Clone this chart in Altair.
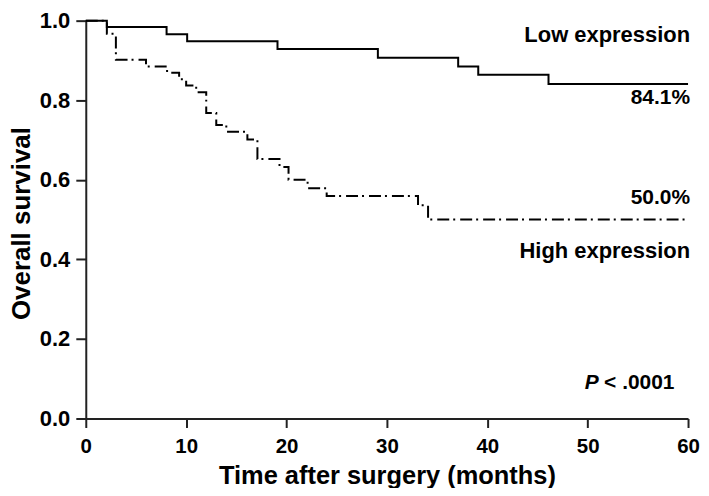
import altair as alt
import pandas as pd

# Kaplan-Meier step curves (time in months, survival probability)
low_times = [0, 2.1, 8.05, 10.1, 19.1, 29.1, 37.1, 39.1, 46.1, 60]
low_surv = [1.0, 0.984, 0.966, 0.948, 0.929, 0.907, 0.885, 0.864, 0.841, 0.841]

high_times = [0, 2.1, 3.0, 6.0, 8.1, 9.3, 10.0, 11.0, 12.0, 13.0, 14.0, 16.1,
              17.1, 19.3, 20.2, 22.1, 24.0, 33.1, 34.1, 60]
high_surv = [1.0, 0.967, 0.902, 0.885, 0.869, 0.853, 0.837, 0.820, 0.768, 0.738,
             0.721, 0.701, 0.652, 0.632, 0.600, 0.579, 0.559, 0.536, 0.500, 0.500]

# group labels
grp_text = ["Low expression", "High expression"]
grp_x = [60.2, 60.2]
grp_y = [0.946, 0.403]
# final survival percentages and p-value (right-aligned)
pct_text = ["84.1%", "50.0%", "< .0001"]
pct_x = [60.2, 60.2, 58.65]
pct_y = [0.791, 0.539, 0.075]
# italic P
p_text = ["P"]
p_x = [49.7]
p_y = [0.075]

FONT = "Liberation Sans"

low_df = pd.DataFrame({"t": low_times, "s": low_surv})
high_df = pd.DataFrame({"t": high_times, "s": high_surv})
grp_df = pd.DataFrame({"t": grp_x, "s": grp_y, "label": grp_text})
pct_df = pd.DataFrame({"t": pct_x, "s": pct_y, "label": pct_text})
p_df = pd.DataFrame({"t": p_x, "s": p_y, "label": p_text})

y_vals = [round(i * 0.1, 1) for i in range(11)]

x_enc = alt.X(
    "t:Q",
    scale=alt.Scale(domain=[0, 60], nice=False, zero=False),
    axis=alt.Axis(
        values=[0, 10, 20, 30, 40, 50, 60],
        title="Time after surgery (months)",
        titleFont=FONT, titleFontSize=25.5, titleFontWeight="bold", titleColor="black",
        titlePadding=7,
        labelFont=FONT, labelFontSize=20.5, labelFontWeight="bold", labelColor="black",
        labelPadding=9, labelFlush=False,
        tickSize=9, tickWidth=2, tickColor="#222", domainColor="#222", domainWidth=2,
        grid=False,
    ),
)
y_enc = alt.Y(
    "s:Q",
    scale=alt.Scale(domain=[0, 1], nice=False, zero=False),
    axis=alt.Axis(
        values=y_vals,
        labelExpr="(round(datum.value*10) % 2 == 0) ? format(datum.value, '.1f') : ''",
        title="Overall survival",
        titleFont=FONT, titleFontSize=26, titleFontWeight="bold", titleColor="black",
        titleAngle=270, titleBaseline="alphabetic", titleAlign="center",
        titleX=-56, titleY=203,
        labelFont=FONT, labelFontSize=22, labelFontWeight="bold", labelColor="black",
        labelPadding=6, labelFlush=False,
        tickSize={"condition": {"test": "round(datum.value*10) % 2 == 0", "value": 10}, "value": 5},
        tickWidth=2, tickColor="#222", domainColor="#222", domainWidth=2,
        grid=False,
    ),
)

low_line = alt.Chart(low_df).mark_line(
    interpolate="step-after", color="black", strokeWidth=2
).encode(x=x_enc, y=y_enc)

high_line = alt.Chart(high_df).mark_line(
    interpolate="step-after", color="black", strokeWidth=2, strokeDash=[12, 4, 2, 5]
).encode(x="t:Q", y="s:Q")

grp = alt.Chart(grp_df).mark_text(
    align="right", baseline="alphabetic", font=FONT, fontSize=22, fontWeight="bold", color="black"
).encode(x="t:Q", y="s:Q", text="label:N")

pct = alt.Chart(pct_df).mark_text(
    align="right", baseline="alphabetic", font=FONT, fontSize=21, fontWeight="bold", color="black"
).encode(x="t:Q", y="s:Q", text="label:N")

p_mark = alt.Chart(p_df).mark_text(
    align="left", baseline="alphabetic", font=FONT, fontSize=21, fontWeight="bold",
    fontStyle="italic", color="black"
).encode(x="t:Q", y="s:Q", text="label:N")

chart = alt.layer(low_line, high_line, grp, pct, p_mark).properties(
    width=604, height=399,
    autosize=alt.AutoSizeParams(type="none"),
    padding={"left": 78, "top": 12, "right": 13, "bottom": 69},
).configure_view(stroke=None)

chart.save("out.html", embed_options={"renderer": "svg", "actions": False})
